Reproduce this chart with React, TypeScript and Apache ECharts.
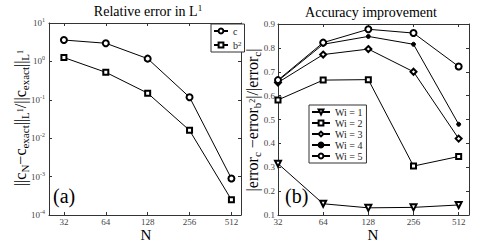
import React, { useEffect, useRef } from 'react';
import * as echarts from 'echarts';

const Ns = [32, 64, 128, 256, 512];
const xTickExps = [5, 6, 7, 8, 9];
const cErr = [3.6, 2.97, 1.18, 0.117, 0.00089];
const b2Err = [1.26, 0.52, 0.149, 0.016, 0.00025];
const wi1 = [0.315, 0.147, 0.13, 0.132, 0.142];
const wi2 = [0.582, 0.665, 0.667, 0.305, 0.345];
const wi3 = [0.655, 0.772, 0.795, 0.7, 0.42];
const wi4 = [0.662, 0.815, 0.848, 0.815, 0.48];
const wi5 = [0.665, 0.822, 0.878, 0.862, 0.722];
const leftNames = ['c', 'b2'];
const rightNames = ['Wi = 1', 'Wi = 2', 'Wi = 3', 'Wi = 4', 'Wi = 5'];

const SERIF = '"Liberation Serif", "DejaVu Serif", serif';
const AX = '#333';

const toData = (vals: number[]) => Ns.map((n, i) => [Math.log2(n), vals[i]]);

export default function App() {
  const ref = useRef<HTMLDivElement>(null);
  useEffect(() => {
    if (!ref.current) return;
    const chart = echarts.init(ref.current, undefined, { renderer: 'svg' });

    const xBase = (grid: number, min: number, top: boolean) => ({
      type: 'value',
      gridIndex: grid,
      position: top ? 'top' : 'bottom',
      min,
      max: Math.log2(600),
      axisLine: { show: true, lineStyle: { color: AX, width: 1 } },
      axisTick: { show: true, inside: true, length: 3, customValues: xTickExps, lineStyle: { color: AX } },
      axisLabel: {
        show: !top,
        customValues: xTickExps,
        margin: 2,
        fontFamily: SERIF,
        fontSize: 9,
        color: '#444',
        formatter: (v: number) => String(Math.round(Math.pow(2, v))),
      },
      splitLine: { show: false },
    });

    const yLog = (right: boolean) => ({
      type: 'log',
      logBase: 10,
      gridIndex: 0,
      position: right ? 'right' : 'left',
      min: 0.0001,
      max: 10,
      interval: 1,
      axisLine: { show: true, lineStyle: { color: AX, width: 1 } },
      axisTick: { show: true, inside: true, length: 3, lineStyle: { color: AX } },
      axisLabel: {
        show: !right,
        margin: 4,
        fontFamily: SERIF,
        fontSize: 9,
        color: '#444',
        formatter: (v: number) => `{b|10}{sup|${Math.round(Math.log10(v))}}`,
        rich: {
          b: { fontFamily: SERIF, fontSize: 9, color: '#444', lineHeight: 12 },
          sup: { fontFamily: SERIF, fontSize: 6, color: '#444', verticalAlign: 'top', lineHeight: 7 },
        },
      },
      splitLine: { show: false },
    });

    const yLin = (right: boolean) => ({
      type: 'value',
      gridIndex: 1,
      position: right ? 'right' : 'left',
      min: 0.1,
      max: 0.9,
      interval: 0.1,
      axisLine: { show: true, lineStyle: { color: AX, width: 1 } },
      axisTick: { show: true, inside: true, length: 3, lineStyle: { color: AX } },
      axisLabel: {
        show: !right,
        margin: 3,
        fontFamily: SERIF,
        fontSize: 9,
        color: '#444',
        formatter: (v: number) => v.toFixed(1),
      },
      splitLine: { show: false },
    });

    const lineSeries = (name: string, vals: number[], xi: number, yi: number, symbol: string, size: number, rotate = 0) => ({
      type: 'line',
      name,
      xAxisIndex: xi,
      yAxisIndex: yi,
      data: toData(vals),
      symbol,
      symbolSize: size,
      symbolRotate: rotate,
      color: '#000',
      lineStyle: { color: '#000', width: 1 },
      itemStyle: { color: '#000', borderColor: '#000', borderWidth: 1 },
      z: 3,
    });

    const legendCommon = {
      orient: 'vertical',
      itemHeight: 6,
      borderColor: '#333',
      borderWidth: 1,
      borderRadius: 0,
      backgroundColor: '#fff',
      selectedMode: false,
      textStyle: {
        fontFamily: SERIF,
        fontSize: 10,
        color: '#222',
        lineHeight: 10,
        rich: {
          sup: { fontFamily: SERIF, fontSize: 7, color: '#222', verticalAlign: 'top', lineHeight: 8 },
        },
      },
    };

    chart.setOption({
      animation: false,
      backgroundColor: '#fff',
      grid: [
        { left: 49, top: 23, width: 192, height: 192 },
        { left: 278, top: 24, width: 191, height: 191 },
      ],
      xAxis: [
        xBase(0, Math.log2(25), false),
        xBase(1, Math.log2(32), false),
        xBase(0, Math.log2(25), true),
        xBase(1, Math.log2(32), true),
      ],
      yAxis: [yLog(false), yLin(false), yLog(true), yLin(true)],
      legend: [
        {
          ...legendCommon,
          data: leftNames,
          left: 211,
          top: 24,
          itemWidth: 14,
          itemGap: 4,
          padding: [2, 3, 2, 2],
          formatter: (n: string) => (n === 'b2' ? 'b{sup|2}' : n),
        },
        {
          ...legendCommon,
          data: rightNames,
          left: 309,
          top: 105,
          itemWidth: 18,
          itemGap: 1,
          padding: [2, 4, 2, 2],
        },
      ],
      series: [
        lineSeries(leftNames[0], cErr, 0, 0, 'emptyCircle', 6),
        lineSeries(leftNames[1], b2Err, 0, 0, 'emptyRect', 5),
        lineSeries(rightNames[0], wi1, 1, 1, 'emptyTriangle', 6, 180),
        lineSeries(rightNames[1], wi2, 1, 1, 'emptyRect', 5),
        lineSeries(rightNames[2], wi3, 1, 1, 'emptyDiamond', 6),
        lineSeries(rightNames[3], wi4, 1, 1, 'circle', 4),
        lineSeries(rightNames[4], wi5, 1, 1, 'emptyCircle', 6),
      ],
      graphic: [
        {
          type: 'text', x: 148, y: 11,
          style: {
            text: '{m|Relative error in L}{sup|1}', align: 'center', verticalAlign: 'middle',
            rich: {
              m: { fontFamily: SERIF, fontSize: 14, fill: '#000', lineHeight: 16 },
              sup: { fontFamily: SERIF, fontSize: 9, fill: '#000', verticalAlign: 'top', lineHeight: 9 },
            },
          },
        },
        {
          type: 'text', x: 371, y: 12,
          style: { text: 'Accuracy improvement', align: 'center', verticalAlign: 'middle', fontFamily: SERIF, fontSize: 14, fill: '#000' },
        },
        {
          type: 'text', x: 146, y: 235,
          style: { text: 'N', align: 'center', verticalAlign: 'middle', fontFamily: SERIF, fontSize: 15, fill: '#000' },
        },
        {
          type: 'text', x: 373, y: 235,
          style: { text: 'N', align: 'center', verticalAlign: 'middle', fontFamily: SERIF, fontSize: 15, fill: '#000' },
        },
        {
          type: 'text', x: 53, y: 196,
          style: { text: '(a)', align: 'left', verticalAlign: 'middle', fontFamily: SERIF, fontSize: 20, fill: '#000' },
        },
        {
          type: 'text', x: 285, y: 196,
          style: { text: '(b)', align: 'left', verticalAlign: 'middle', fontFamily: SERIF, fontSize: 20, fill: '#000' },
        },
        {
          type: 'text', x: 20, y: 118, rotation: Math.PI / 2,
          style: {
            text: '{m|||c}{s|N}{m|−c}{s|exact}{m|||}{s|L}{t|1}{m|/||c}{s|exact}{m|||}{s|L}{t|1}',
            align: 'center', verticalAlign: 'middle',
            rich: {
              m: { fontFamily: SERIF, fontSize: 16, fill: '#000', lineHeight: 20 },
              s: { fontFamily: SERIF, fontSize: 11, fill: '#000', verticalAlign: 'bottom', lineHeight: 11 },
              t: { fontFamily: SERIF, fontSize: 8, fill: '#000', verticalAlign: 'middle', lineHeight: 8 },
            },
          },
        },
        {
          type: 'text', x: 252, y: 120, rotation: Math.PI / 2,
          style: {
            text: '{m||error}{s|c}{m| −error}{s|b}{t|2}{m||/|error}{s|c}{m||}',
            align: 'center', verticalAlign: 'middle',
            rich: {
              m: { fontFamily: SERIF, fontSize: 16, fill: '#000', lineHeight: 20 },
              s: { fontFamily: SERIF, fontSize: 11, fill: '#000', verticalAlign: 'bottom', lineHeight: 11 },
              t: { fontFamily: SERIF, fontSize: 8, fill: '#000', verticalAlign: 'middle', lineHeight: 8 },
            },
          },
        },
      ],
    });
    return () => chart.dispose();
  }, []);
  return <div ref={ref} style={{ width: 485, height: 247, position: 'absolute', left: 0, top: 0 }} />;
}
